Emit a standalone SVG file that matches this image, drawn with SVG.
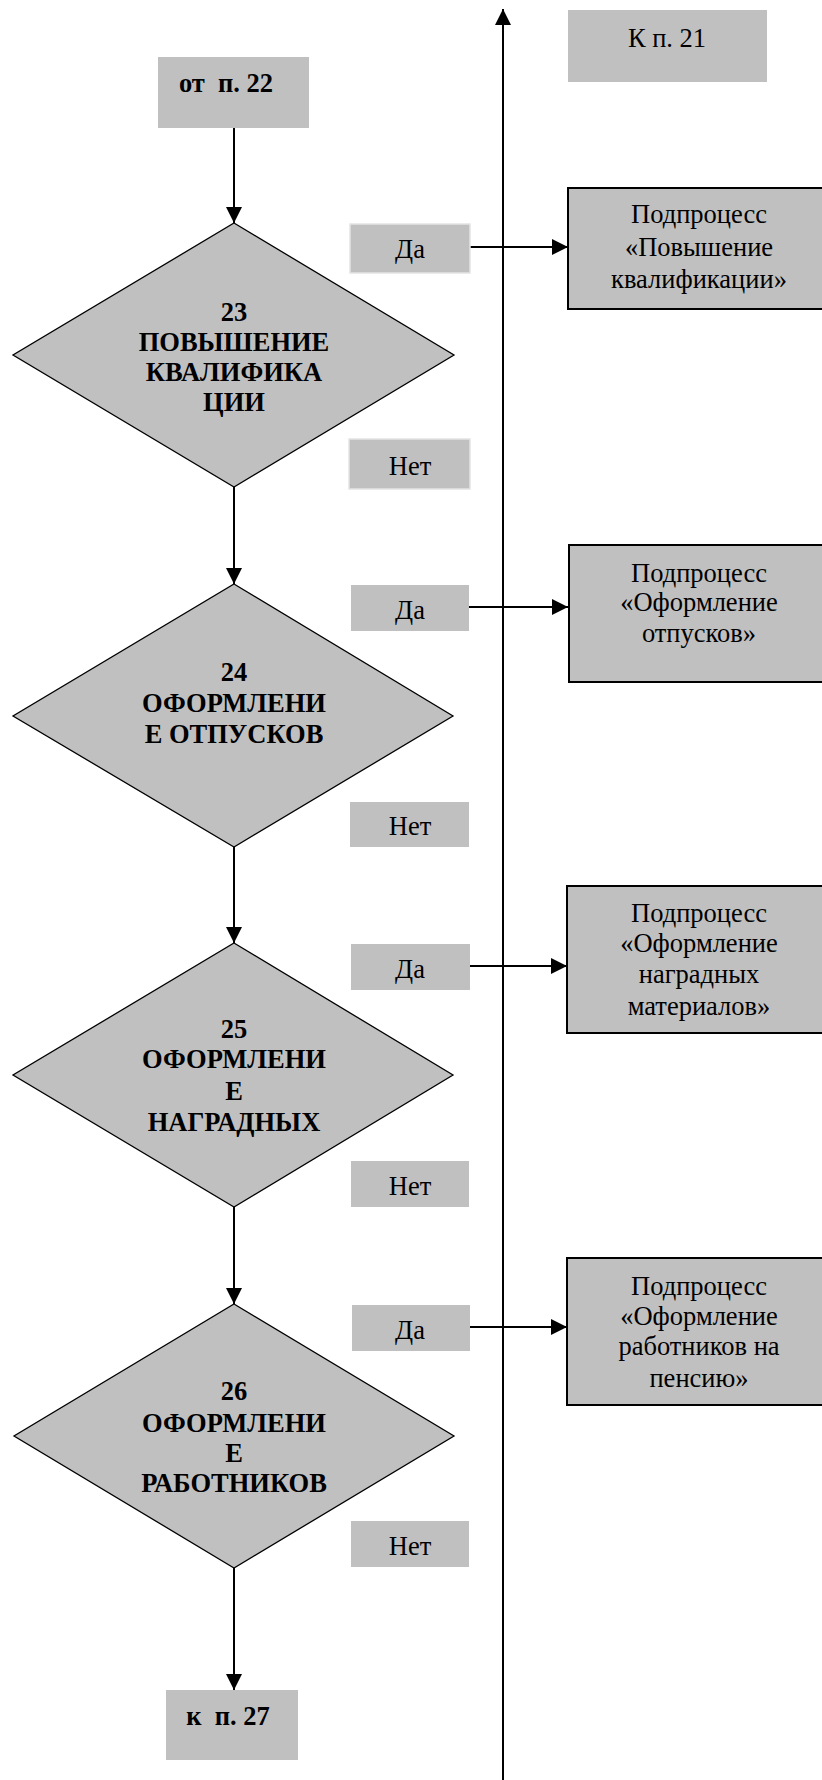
<svg xmlns="http://www.w3.org/2000/svg" width="822" height="1780" viewBox="0 0 822 1780">
  <style>
    .bg { fill: #ffffff; }
    .term { fill: #c0c0c0; stroke: none; }
    .lbl { fill: #c0c0c0; stroke: none; }
    .lbl-edge { fill: #c0c0c0; stroke: #e4e4e4; stroke-width: 1.5; }
    .dec { fill: #c0c0c0; stroke: #000000; stroke-width: 1.3; }
    .sub { fill: #c0c0c0; stroke: #000000; stroke-width: 2; }
    .wire { fill: none; stroke: #000000; stroke-width: 2; }
    text { font-family: "Liberation Serif", "Times New Roman", serif; font-size: 26.5px; fill: #000000; text-anchor: middle; }
    .b { font-weight: bold; }
  </style>
  <defs>
    <marker id="arrow" markerWidth="16" markerHeight="16" refX="16" refY="8" orient="auto" markerUnits="userSpaceOnUse">
      <path d="M0,0 L16,8 L0,16 Z" fill="#000000"/>
    </marker>
  </defs>

  <rect class="bg" x="0" y="0" width="822" height="1780"/>

  <!-- connectors -->
  <g id="connectors">
    <line class="wire" x1="503" y1="1780" x2="503" y2="9" marker-end="url(#arrow)"/>
    <line class="wire" x1="234" y1="128" x2="234" y2="223" marker-end="url(#arrow)"/>
    <line class="wire" x1="234" y1="487" x2="234" y2="584" marker-end="url(#arrow)"/>
    <line class="wire" x1="234" y1="847" x2="234" y2="943" marker-end="url(#arrow)"/>
    <line class="wire" x1="234" y1="1207" x2="234" y2="1304" marker-end="url(#arrow)"/>
    <line class="wire" x1="234" y1="1568" x2="234" y2="1690" marker-end="url(#arrow)"/>
    <line class="wire" x1="470" y1="247" x2="568" y2="247" marker-end="url(#arrow)"/>
    <line class="wire" x1="469" y1="607" x2="568" y2="607" marker-end="url(#arrow)"/>
    <line class="wire" x1="470" y1="966" x2="567" y2="966" marker-end="url(#arrow)"/>
    <line class="wire" x1="470" y1="1327" x2="567" y2="1327" marker-end="url(#arrow)"/>
  </g>

  <!-- entry / exit terminals -->
  <g id="to-21">
    <rect class="term" x="568" y="10" width="199" height="72"/>
    <text x="667" y="47">К п. 21</text>
  </g>
  <g id="from-22">
    <rect class="term" x="158" y="57" width="151" height="71"/>
    <text class="b" x="226" y="92" xml:space="preserve">от  п. 22</text>
  </g>
  <g id="to-27">
    <rect class="term" x="166" y="1690" width="132" height="70"/>
    <text class="b" x="228" y="1725" xml:space="preserve">к  п. 27</text>
  </g>

  <!-- decision 23 -->
  <g id="d23">
    <polygon class="dec" points="234,223 454,355 234,487 13,355"/>
    <text class="b" x="234" y="321">23</text>
    <text class="b" x="234" y="351">ПОВЫШЕНИЕ</text>
    <text class="b" x="234" y="381">КВАЛИФИКА</text>
    <text class="b" x="234" y="411">ЦИИ</text>
  </g>
  <g id="d23-yes">
    <rect class="lbl-edge" x="350" y="224" width="120" height="49"/>
    <text x="410" y="258">Да</text>
  </g>
  <g id="d23-no">
    <rect class="lbl-edge" x="349" y="439" width="121" height="50"/>
    <text x="410" y="475">Нет</text>
  </g>
  <g id="sub-23">
    <rect class="sub" x="568" y="188" width="270" height="121"/>
    <text x="699" y="223">Подпроцесс</text>
    <text x="699" y="256">«Повышение</text>
    <text x="699" y="288">квалификации»</text>
  </g>

  <!-- decision 24 -->
  <g id="d24">
    <polygon class="dec" points="234,584 453,716 234,847 13,716"/>
    <text class="b" x="234" y="681">24</text>
    <text class="b" x="234" y="712">ОФОРМЛЕНИ</text>
    <text class="b" x="234" y="743">Е ОТПУСКОВ</text>
  </g>
  <g id="d24-yes">
    <rect class="lbl" x="351" y="585" width="118" height="46"/>
    <text x="410" y="619">Да</text>
  </g>
  <g id="d24-no">
    <rect class="lbl" x="350" y="802" width="119" height="45"/>
    <text x="410" y="835">Нет</text>
  </g>
  <g id="sub-24">
    <rect class="sub" x="569" y="545" width="270" height="137"/>
    <text x="699" y="582">Подпроцесс</text>
    <text x="699" y="611">«Оформление</text>
    <text x="699" y="642">отпусков»</text>
  </g>

  <!-- decision 25 -->
  <g id="d25">
    <polygon class="dec" points="234,943 453,1075 234,1207 13,1075"/>
    <text class="b" x="234" y="1038">25</text>
    <text class="b" x="234" y="1068">ОФОРМЛЕНИ</text>
    <text class="b" x="234" y="1100">Е</text>
    <text class="b" x="234" y="1131">НАГРАДНЫХ</text>
  </g>
  <g id="d25-yes">
    <rect class="lbl" x="351" y="944" width="119" height="46"/>
    <text x="410" y="978">Да</text>
  </g>
  <g id="d25-no">
    <rect class="lbl" x="351" y="1161" width="118" height="46"/>
    <text x="410" y="1195">Нет</text>
  </g>
  <g id="sub-25">
    <rect class="sub" x="567" y="886" width="272" height="147"/>
    <text x="699" y="922">Подпроцесс</text>
    <text x="699" y="952">«Оформление</text>
    <text x="699" y="983">наградных</text>
    <text x="699" y="1015">материалов»</text>
  </g>

  <!-- decision 26 -->
  <g id="d26">
    <polygon class="dec" points="234,1304 454,1436 234,1568 14,1436"/>
    <text class="b" x="234" y="1400">26</text>
    <text class="b" x="234" y="1432">ОФОРМЛЕНИ</text>
    <text class="b" x="234" y="1462">Е</text>
    <text class="b" x="234" y="1492">РАБОТНИКОВ</text>
  </g>
  <g id="d26-yes">
    <rect class="lbl" x="352" y="1305" width="118" height="46"/>
    <text x="410" y="1339">Да</text>
  </g>
  <g id="d26-no">
    <rect class="lbl" x="351" y="1521" width="118" height="46"/>
    <text x="410" y="1555">Нет</text>
  </g>
  <g id="sub-26">
    <rect class="sub" x="567" y="1258" width="272" height="147"/>
    <text x="699" y="1295">Подпроцесс</text>
    <text x="699" y="1325">«Оформление</text>
    <text x="699" y="1355">работников на</text>
    <text x="699" y="1387">пенсию»</text>
  </g>
</svg>
